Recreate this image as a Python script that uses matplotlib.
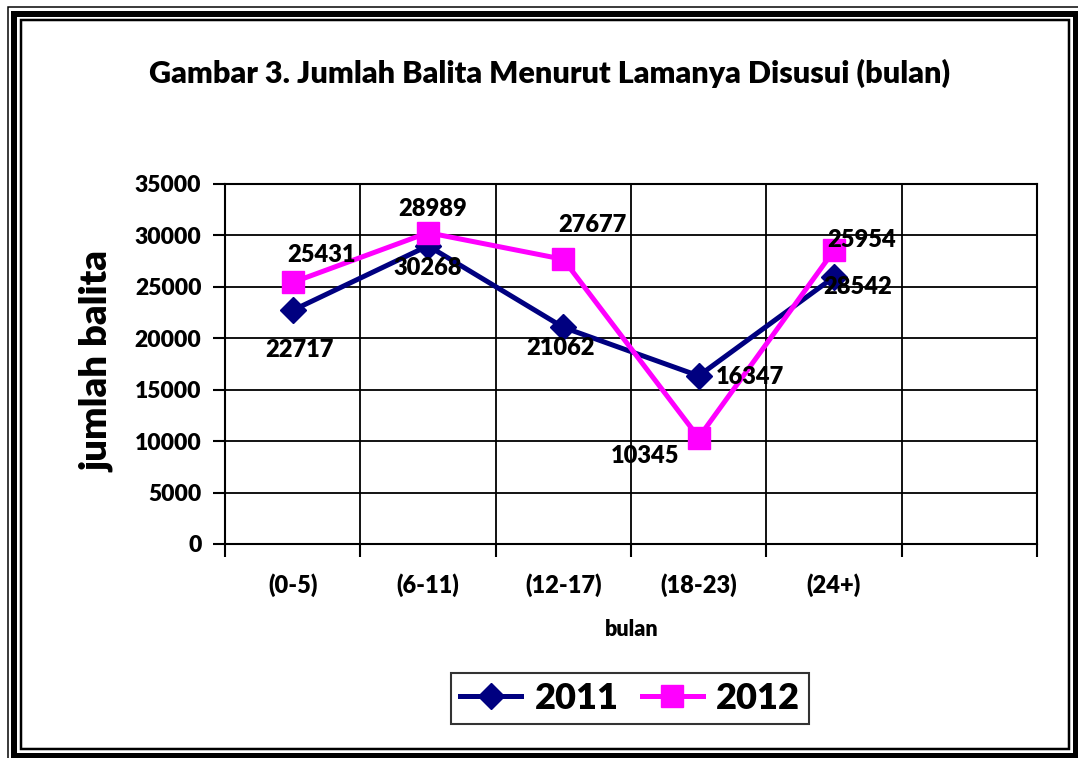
import matplotlib
matplotlib.use("Agg")
import matplotlib.pyplot as plt
import numpy as np
from matplotlib.patches import Rectangle

plt.rcParams["font.family"] = ["Lato", "DejaVu Sans"]
WT = "heavy"
plt.rcParams["font.weight"] = WT

categories = ["(0-5)", "(6-11)", "(12-17)", "(18-23)", "(24+)"]
values_2011 = [22717, 28989, 21062, 16347, 25954]
values_2012 = [25431, 30268, 27677, 10345, 28542]
# data labels as printed on the source chart
labels_2011 = ["22717", "30268", "21062", "16347", "28542"]
labels_2012 = ["25431", "28989", "27677", "10345", "25954"]

# label offsets in pixels (dx right, dy down) from the marker
off_2011 = [(7, 40), (0, 22), (-3, 21), (51, 1), (24, 10)]
off_2012 = [(29, -27), (5, -24), (29, -34), (-54, 18), (28, -10)]

W, H = 1078, 758
fig = plt.figure(figsize=(W / 100, H / 100), dpi=100)


def px(x, y):
    return x / W, 1 - y / H


# triple frame around the chart
for (x0, y0, x1, y1, lw) in [
    (8, 7, 1090, 770, 1.5),
    (14, 14, 1076, 755.5, 6),
    (21, 20, 1068.5, 749, 2.5),
]:
    fx0, fy1 = px(x0, y0)
    fx1, fy0 = px(x1, y1)
    fig.patches.append(
        Rectangle((fx0, fy0), fx1 - fx0, fy1 - fy0, transform=fig.transFigure,
                  fill=False, ec="black", lw=lw * 0.72)
    )

l, t = px(225, 184)
r, b = px(1037, 544)
ax = fig.add_axes([l, b, r - l, t - b])

x = np.arange(len(categories))
ax.plot(x, values_2011, color="#000080", lw=3.6, marker="D", ms=13, label="2011")
ax.plot(x, values_2012, color="#FF00FF", lw=3.6, marker="s", ms=16.5, label="2012")

for xs, vals, labs, offs in [
    (x, values_2011, labels_2011, off_2011),
    (x, values_2012, labels_2012, off_2012),
]:
    for xi, v, s, (dx, dy) in zip(xs, vals, labs, offs):
        ax.annotate(s, (xi, v), xytext=(dx * 0.72, -dy * 0.72),
                    textcoords="offset points", ha="center", va="center",
                    fontsize=17, fontweight=WT)

ax.set_xlim(-0.5, 5.5)
ax.set_ylim(0, 35000)
ax.set_yticks(np.arange(0, 35001, 5000))
ax.set_xticks(x)
ax.set_xticklabels(categories)
ax.set_xticks(np.arange(-0.5, 5.6, 1), minor=True)
ax.tick_params(axis="x", which="major", length=0, pad=21, labelsize=17)
ax.tick_params(axis="x", which="minor", length=9, width=1.5, direction="out")
ax.tick_params(axis="y", length=9, width=1.5, pad=8, labelsize=16.5)
ax.grid(True, axis="y", color="black", lw=1.3)
ax.grid(True, axis="x", which="minor", color="black", lw=1.3)
for sp in ax.spines.values():
    sp.set_linewidth(1.5)
ax.set_axisbelow(True)

tx, ty = px(550, 73)
fig.text(tx, ty, "Gambar 3. Jumlah Balita Menurut Lamanya Disusui (bulan)",
         ha="center", va="center", fontsize=22, fontweight=WT)
lx, ly = px(97, 362)
fig.text(lx, ly, "jumlah balita", rotation=90, ha="center", va="center",
         fontsize=27.5, fontweight=WT)
bx, by = px(632, 630)
fig.text(bx, by, "bulan", ha="center", va="center", fontsize=15.5, fontweight=WT)

gx, gy = px(630, 698.5)
leg = fig.legend(loc="center", bbox_to_anchor=(gx, gy), ncol=2,
                 frameon=True, fancybox=False, edgecolor="black",
                 handlelength=1.7, handletextpad=0.36, columnspacing=0.64,
                 borderpad=0.25, prop={"weight": WT, "size": 26})
leg.get_frame().set_linewidth(1.5)

fig.savefig("out.png", dpi=100)
